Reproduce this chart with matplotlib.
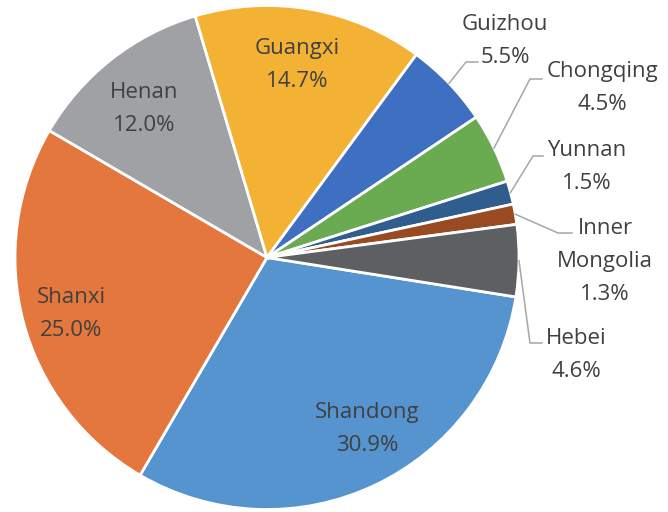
import numpy as np
import matplotlib.pyplot as plt

# share of each province (%), clockwise from the Hebei/Shandong edge
provinces = ['Shandong', 'Shanxi', 'Henan', 'Guangxi', 'Guizhou',
             'Chongqing', 'Yunnan', 'Inner\nMongolia', 'Hebei']
shares = [30.9, 25.0, 12.0, 14.7, 5.5, 4.5, 1.5, 1.3, 4.6]
colors = ['#5594CE', '#E3773D', '#A0A1A4', '#F3B233', '#3F6FC0',
          '#6AAA50', '#2F5E8E', '#9A4A21', '#5E5F62']

W, H = 668, 512
cx, cy, R = 267, H - 257.5, 252  # pie centre / radius in pixels (y up)

# label block centres in pixel coords (y down), leader elbows for outside labels
label_pos = [(367, 426), (71, 311), (144, 106), (297, 62), (505, 38),
             (602, 85.5), (587, 164), (605, 259), (576, 352)]
leaders = {4: [(466, 62), (478, 62)],
           5: [(530, 79), (542, 79)],
           6: [(533, 156), (543, 156)],
           7: [(558, 233), (572, 233)],
           8: [(530, 343), (542, 343)]}

plt.rcParams['font.family'] = ['Open Sans', 'DejaVu Sans']
fig = plt.figure(figsize=(W / 100, H / 100), dpi=100)
ax = fig.add_axes([0, 0, 1, 1])
wedges, _ = ax.pie(shares, colors=colors, startangle=-9, counterclock=False,
                   center=(cx, cy), radius=R,
                   wedgeprops=dict(edgecolor='white', linewidth=2))
ax.set_xlim(0, W)
ax.set_ylim(0, H)
ax.set_aspect('equal')
ax.axis('off')

txt_col = '#404040'
cap = 16.5   # cap height px
gap = 33     # baseline spacing px

for i, (name, val) in enumerate(zip(provinces, shares)):
    lines = name.split('\n') + ['{:.1f}%'.format(val)]
    x, yc = label_pos[i]
    n = len(lines)
    for k, s in enumerate(lines):
        yb = yc + (k - (n - 1) / 2) * gap + cap / 2
        ax.text(x, H - yb, s, ha='center', va='baseline', fontsize=16,
                color=txt_col)
    if i in leaders:
        w = wedges[i]
        mid = np.deg2rad((w.theta1 + w.theta2) / 2)
        pts = [(cx + R * np.cos(mid), cy + R * np.sin(mid))]
        pts += [(px, H - py) for px, py in leaders[i]]
        pts = np.array(pts)
        ax.plot(pts[:, 0], pts[:, 1], color='#A6A6A6', lw=1.1)

fig.savefig('out.png', dpi=100)
